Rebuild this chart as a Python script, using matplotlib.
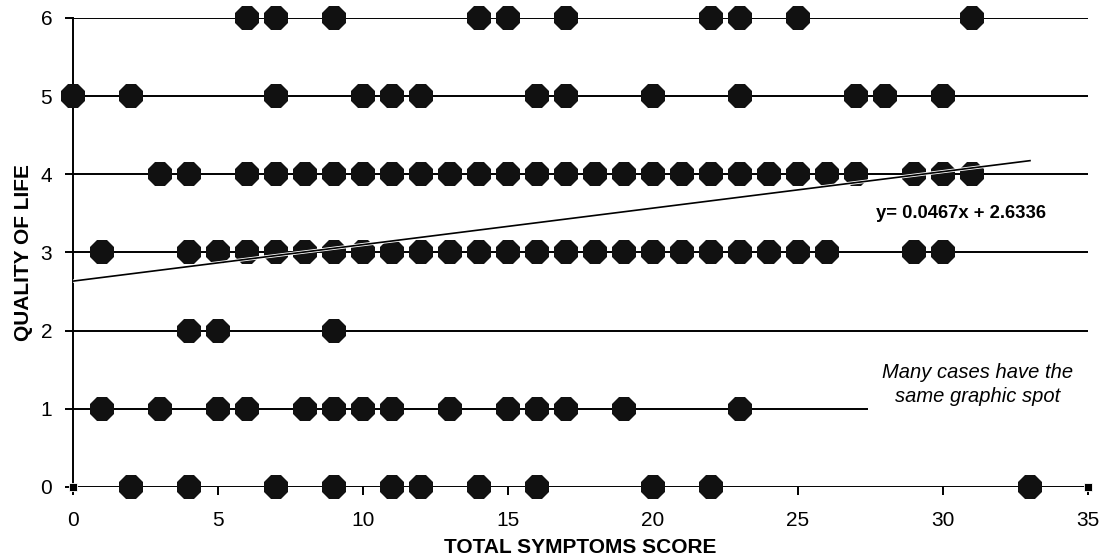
import matplotlib
matplotlib.use('Agg')
import matplotlib.pyplot as plt
import matplotlib.patheffects as pe
from matplotlib.patches import Rectangle
import numpy as np

plt.rcParams['font.family'] = ['Liberation Sans', 'DejaVu Sans']

# symptom scores observed at each quality-of-life level
qol_6 = [6, 7, 9, 14, 15, 17, 22, 23, 25, 31]
qol_5 = [0, 2, 7, 10, 11, 12, 16, 17, 20, 23, 27, 28, 30]
qol_4 = [3, 4] + list(range(6, 28)) + [29, 30, 31]
qol_3 = [1] + list(range(4, 27)) + [29, 30]
qol_2 = [4, 5, 9]
qol_1 = [1, 3, 5, 6, 8, 9, 10, 11, 13, 15, 16, 17, 19, 23]
qol_0 = [2, 4, 7, 9, 11, 12, 14, 16, 20, 22, 33]
levels = [0, 1, 2, 3, 4, 5, 6]
rows = [qol_0, qol_1, qol_2, qol_3, qol_4, qol_5, qol_6]

# corner anchor points of the original chart
anchor_x = [0, 35]
anchor_y = [0, 0]

# trend line
slope = 0.0467
intercept = 2.6336
trend_end = 33

fig = plt.figure(figsize=(11.04, 5.6), dpi=100)
ax = fig.add_axes([0.0661, 0.1304, 0.9194, 0.8375])

for lvl in levels:
    ax.axhline(lvl, color='black', lw=1.4, zorder=1)

# white note box hides part of the grid line
ax.add_patch(Rectangle((27.4, 0.9), 8.5, 0.9, facecolor='white',
                       edgecolor='none', zorder=2, clip_on=False))

for lvl, xs in zip(levels, rows):
    ax.plot(xs, [lvl] * len(xs), linestyle='none', marker='8', markersize=19,
            color='#111111', markeredgewidth=0, zorder=3, clip_on=False)

ax.plot(anchor_x, anchor_y, linestyle='none', marker='s', markersize=6,
        color='black', markeredgecolor='white', markeredgewidth=0.6,
        zorder=5, clip_on=False)

tx = np.array([0, trend_end])
ax.plot(tx, slope * tx + intercept, color='black', lw=1.2, zorder=4,
        path_effects=[pe.Stroke(linewidth=2.4, foreground='white'), pe.Normal()])

ax.text(27.7, 3.5, 'y= 0.0467x + 2.6336', fontsize=13.3, fontweight='bold',
        ha='left', va='center', zorder=6)
ax.text(31.2, 1.31, 'Many cases have the\nsame graphic spot', fontsize=14.5,
        style='italic', ha='center', va='center', linespacing=1.35, zorder=6)

ax.set_xlim(0, 35)
ax.set_ylim(0, 6)
ax.set_xticks(range(0, 36, 5))
ax.set_yticks(levels)
ax.tick_params(axis='both', labelsize=15, width=1.4, length=6, color='black')
ax.tick_params(axis='y', pad=9)
ax.tick_params(axis='x', pad=11)

for s in ['top', 'right', 'bottom']:
    ax.spines[s].set_visible(False)
ax.spines['left'].set_linewidth(1.4)

ax.set_xlabel('TOTAL SYMPTOMS SCORE', fontsize=15, fontweight='bold', labelpad=6)
ax.set_ylabel('QUALITY OF LIFE', fontsize=15, fontweight='bold', labelpad=5)

plt.savefig('out.png', dpi=100)
